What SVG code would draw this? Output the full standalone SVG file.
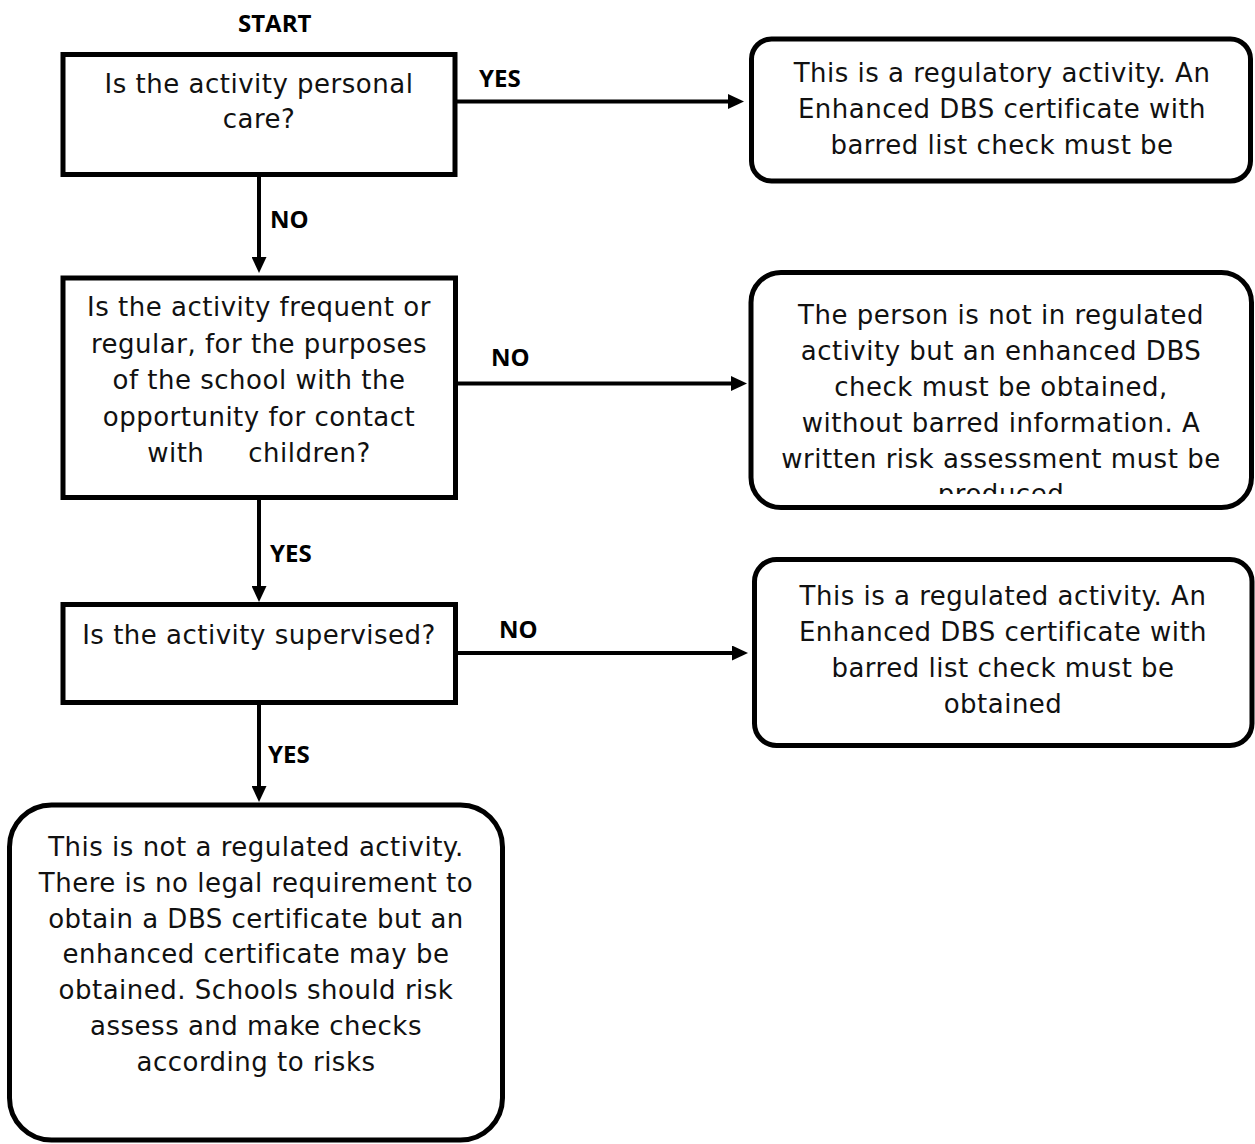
<svg xmlns="http://www.w3.org/2000/svg" width="1255" height="1144" viewBox="0 0 1255 1144">
<style>
.box{fill:#fff;stroke:#000;stroke-width:5}
.t{font-family:"DejaVu Sans","Liberation Sans",sans-serif;font-size:26px;letter-spacing:0.5px;fill:#111;text-anchor:middle}
.lbl{font-family:"Open Sans","Liberation Sans",sans-serif;font-size:24px;font-weight:700;fill:#000}
.conn{fill:none;stroke:#000;stroke-width:4}
</style>
<defs>
<marker id="arr" markerWidth="16" markerHeight="15" refX="8" refY="7.5" orient="auto" markerUnits="userSpaceOnUse">
<path d="M0,0 L16,7.5 L0,15 z" fill="#000"/>
</marker>
<clipPath id="clipB"><rect x="740" y="260" width="515" height="234"/></clipPath>
</defs>
<rect width="1255" height="1144" fill="#fff"/>

<g id="connectors">
<path class="conn" d="M259,177 V265" marker-end="url(#arr)"/>
<path class="conn" d="M259,500 V594" marker-end="url(#arr)"/>
<path class="conn" d="M259,705 V794" marker-end="url(#arr)"/>
<path class="conn" d="M457,101.5 H736" marker-end="url(#arr)"/>
<path class="conn" d="M458,383.5 H739" marker-end="url(#arr)"/>
<path class="conn" d="M458,653 H740" marker-end="url(#arr)"/>
<text class="lbl" x="238" y="32">START</text>
<text class="lbl" x="479" y="87">YES</text>
<text class="lbl" x="270" y="228">NO</text>
<text class="lbl" x="491" y="366">NO</text>
<text class="lbl" x="270" y="562">YES</text>
<text class="lbl" x="499" y="638">NO</text>
<text class="lbl" x="268" y="763">YES</text>
</g>

<g id="q1">
<rect class="box" x="63" y="54.5" width="392" height="120"/>
<text class="t" x="259" y="93">Is the activity personal</text>
<text class="t" x="259" y="128">care?</text>
</g>

<g id="q2">
<rect class="box" x="63" y="278" width="392.5" height="219.5"/>
<text class="t" x="259" y="316">Is the activity frequent or</text>
<text class="t" x="259" y="352.5">regular, for the purposes</text>
<text class="t" x="259" y="389">of the school with the</text>
<text class="t" x="259" y="425.5">opportunity for contact</text>
<text class="t" x="259" y="462" xml:space="preserve">with     children?</text>
</g>

<g id="q3">
<rect class="box" x="63" y="604.5" width="392.5" height="98"/>
<text class="t" x="259" y="644">Is the activity supervised?</text>
</g>

<g id="rA">
<rect class="box" x="751.5" y="39" width="499" height="142" rx="20"/>
<text class="t" x="1002" y="82">This is a regulatory activity. An</text>
<text class="t" x="1002" y="118">Enhanced DBS certificate with</text>
<text class="t" x="1002" y="154">barred list check must be</text>
</g>

<g id="rB">
<rect class="box" x="751" y="272.5" width="500.5" height="235" rx="30"/>
<g clip-path="url(#clipB)">
<text class="t" x="1001" y="324">The person is not in regulated</text>
<text class="t" x="1001" y="360">activity but an enhanced DBS</text>
<text class="t" x="1001" y="396">check must be obtained,</text>
<text class="t" x="1001" y="432">without barred information. A</text>
<text class="t" x="1001" y="468">written risk assessment must be</text>
<text class="t" x="1001" y="503">produced</text>
</g>
</g>

<g id="rC">
<rect class="box" x="754.5" y="559.5" width="497.5" height="186" rx="22"/>
<text class="t" x="1003" y="605">This is a regulated activity. An</text>
<text class="t" x="1003" y="641">Enhanced DBS certificate with</text>
<text class="t" x="1003" y="677">barred list check must be</text>
<text class="t" x="1003" y="713">obtained</text>
</g>

<g id="rD">
<rect class="box" x="9.5" y="805" width="493" height="335" rx="42"/>
<text class="t" x="256" y="856">This is not a regulated activity.</text>
<text class="t" x="256" y="891.8">There is no legal requirement to</text>
<text class="t" x="256" y="927.6">obtain a DBS certificate but an</text>
<text class="t" x="256" y="963.4">enhanced certificate may be</text>
<text class="t" x="256" y="999.2">obtained. Schools should risk</text>
<text class="t" x="256" y="1035">assess and make checks</text>
<text class="t" x="256" y="1070.8">according to risks</text>
</g>
</svg>
